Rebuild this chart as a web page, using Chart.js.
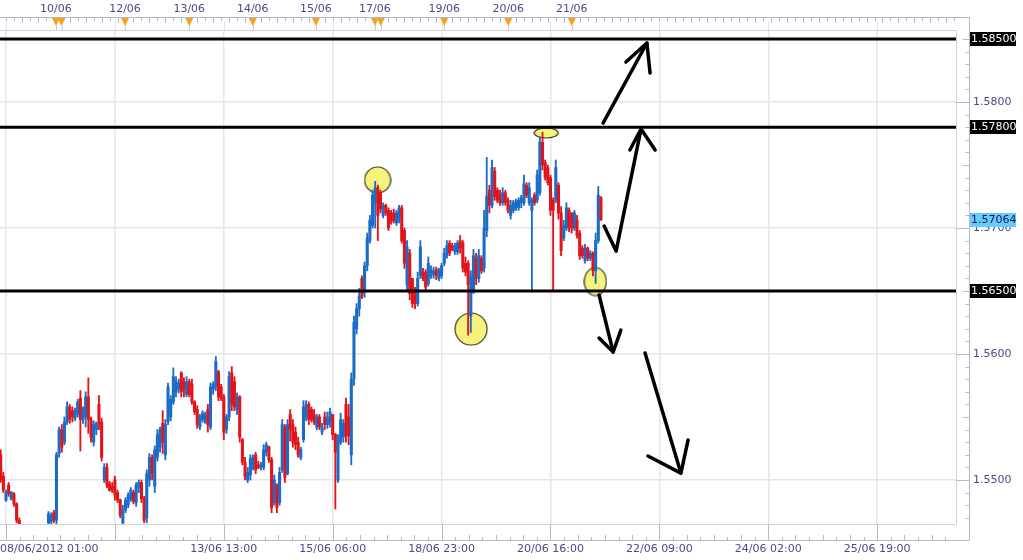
<!DOCTYPE html>
<html><head><meta charset="utf-8">
<script src="https://cdn.jsdelivr.net/npm/chart.js@4.4.1/dist/chart.umd.min.js"></script>
<style>html,body{margin:0;padding:0;background:#fff;overflow:hidden}</style>
</head><body>
<canvas id="c" width="1023" height="560"></canvas>
<script>
// ---- hourly candles, first candle is bar -2 (bar 0 = 08/06/2012 01:00)
const firstBar = -2;
const opens = [1.5520,1.5503,1.5484,1.5496,1.5485,1.5489,1.5481,1.5468,1.5458,1.5450,1.5454,1.5447,
1.5451,1.5456,1.5450,1.5455,1.5459,1.5456,1.5466,1.5467,1.5474,1.5468,
1.5521,1.5540,1.5530,1.5546,1.5558,1.5555,1.5549,1.5552,1.5565,1.5548,
1.5550,1.5566,1.5548,1.5530,1.5540,1.5560,1.5546,1.5500,1.5510,1.5497,
1.5495,1.5500,1.5490,1.5484,1.5466,1.5476,1.5480,1.5485,1.5490,1.5482,
1.5494,1.5498,1.5485,1.5470,1.5500,1.5518,1.5495,1.5518,1.5526,1.5545,
1.5520,1.5546,1.5550,1.5562,1.5570,1.5572,1.5585,1.5578,1.5568,1.5578,
1.5576,1.5562,1.5556,1.5542,1.5548,1.5546,1.5556,1.5542,1.5572,1.5574,
1.5586,1.5574,1.5566,1.5540,1.5550,1.5585,1.5578,1.5556,1.5566,1.5532,
1.5514,1.5500,1.5504,1.5510,1.5520,1.5512,1.5510,1.5510,1.5522,1.5526,
1.5516,1.5482,1.5496,1.5482,1.5508,1.5542,1.5505,1.5552,1.5544,1.5538,
1.5530,1.5518,1.5532,1.5550,1.5560,1.5556,1.5552,1.5542,1.5550,1.5538,
1.5550,1.5544,1.5546,1.5552,1.5536,1.5500,1.5530,1.5534,1.5560,1.5550,
1.5520,1.5580,1.5620,1.5636,1.5660,1.5650,1.5670,1.5690,1.5702,1.5720,
1.5732,1.5728,1.5710,1.5718,1.5714,1.5712,1.5712,1.5704,1.5708,1.5716,
1.5698,1.5655,1.5680,1.5660,1.5650,1.5640,1.5662,1.5665,1.5665,1.5656,
1.5662,1.5663,1.5667,1.5660,1.5662,1.5672,1.5678,1.5688,1.5686,1.5681,
1.5681,1.5690,1.5688,1.5672,1.5672,1.5630,1.5650,1.5676,1.5660,1.5676,
1.5668,1.5698,1.5730,1.5718,1.5745,1.5730,1.5726,1.5720,1.5728,1.5722,
1.5710,1.5714,1.5716,1.5716,1.5720,1.5720,1.5734,1.5720,1.5714,1.5726,
1.5722,1.5728,1.5768,1.5752,1.5748,1.5740,1.5722,1.5722,1.5734,1.5712,
1.5692,1.5700,1.5714,1.5712,1.5700,1.5706,1.5696,1.5684,1.5674,1.5684,
1.5676,1.5680,1.5666,1.5690,1.5724];
const highs = [1.5524,1.5506,1.5492,1.5498,1.5491,1.5490,1.5482,1.5470,1.5460,1.5456,1.5457,1.5453,
1.5458,1.5459,1.5457,1.5461,1.5462,1.5462,1.5475,1.5474,1.5476,1.5522,
1.5542,1.5544,1.5550,1.5562,1.5560,1.5558,1.5557,1.5564,1.5571,1.5558,
1.5570,1.5581,1.5550,1.5547,1.5546,1.5567,1.5549,1.5513,1.5513,1.5499,
1.5498,1.5503,1.5492,1.5485,1.5480,1.5486,1.5490,1.5494,1.5492,1.5498,
1.5500,1.5500,1.5487,1.5508,1.5521,1.5520,1.5527,1.5540,1.5542,1.5555,
1.5548,1.5577,1.5567,1.5589,1.5582,1.5580,1.5586,1.5581,1.5582,1.5580,
1.5580,1.5563,1.5559,1.5552,1.5555,1.5554,1.5560,1.5577,1.5578,1.5598,
1.5587,1.5576,1.5568,1.5552,1.5586,1.5590,1.5582,1.5569,1.5567,1.5533,
1.5518,1.5510,1.5520,1.5520,1.5522,1.5515,1.5514,1.5528,1.5530,1.5527,
1.5518,1.5504,1.5497,1.5510,1.5548,1.5544,1.5548,1.5556,1.5548,1.5542,
1.5534,1.5526,1.5563,1.5563,1.5562,1.5558,1.5556,1.5552,1.5552,1.5545,
1.5554,1.5554,1.5557,1.5552,1.5537,1.5536,1.5553,1.5548,1.5565,1.5560,
1.5585,1.5630,1.5640,1.5652,1.5662,1.5673,1.5696,1.5710,1.5730,1.5737,
1.5734,1.5730,1.5720,1.5719,1.5716,1.5714,1.5715,1.5714,1.5718,1.5718,
1.5700,1.5690,1.5683,1.5660,1.5653,1.5665,1.5690,1.5668,1.5667,1.5677,
1.5670,1.5669,1.5669,1.5668,1.5672,1.5684,1.5690,1.5690,1.5688,1.5688,
1.5690,1.5694,1.5690,1.5677,1.5674,1.5666,1.5683,1.5680,1.5683,1.5678,
1.5714,1.5756,1.5734,1.5754,1.5748,1.5732,1.5730,1.5732,1.5730,1.5724,
1.5722,1.5722,1.5723,1.5724,1.5726,1.5742,1.5736,1.5736,1.5724,1.5728,
1.5746,1.5772,1.5776,1.5754,1.5750,1.5742,1.5724,1.5754,1.5736,1.5717,
1.5706,1.5720,1.5716,1.5712,1.5714,1.5710,1.5698,1.5686,1.5687,1.5685,
1.5682,1.5681,1.5696,1.5733,1.5725];
const lows = [1.5498,1.5490,1.5483,1.5487,1.5484,1.5479,1.5466,1.5455,1.5448,1.5446,1.5444,1.5442,
1.5449,1.5448,1.5447,1.5452,1.5453,1.5452,1.5462,1.5464,1.5466,1.5465,
1.5518,1.5522,1.5528,1.5544,1.5545,1.5546,1.5547,1.5550,1.5523,1.5545,
1.5542,1.5537,1.5530,1.5527,1.5536,1.5540,1.5515,1.5498,1.5494,1.5491,
1.5490,1.5484,1.5482,1.5470,1.5465,1.5474,1.5478,1.5483,1.5481,1.5479,
1.5490,1.5482,1.5466,1.5466,1.5495,1.5500,1.5490,1.5515,1.5522,1.5521,
1.5516,1.5544,1.5547,1.5560,1.5566,1.5569,1.5566,1.5566,1.5566,1.5566,
1.5560,1.5552,1.5541,1.5540,1.5546,1.5545,1.5538,1.5540,1.5568,1.5571,
1.5563,1.5563,1.5532,1.5537,1.5547,1.5555,1.5555,1.5552,1.5530,1.5512,
1.5500,1.5498,1.5500,1.5508,1.5505,1.5509,1.5508,1.5508,1.5519,1.5514,
1.5474,1.5480,1.5474,1.5480,1.5506,1.5498,1.5504,1.5531,1.5526,1.5524,
1.5518,1.5516,1.5530,1.5547,1.5544,1.5546,1.5544,1.5540,1.5540,1.5536,
1.5540,1.5541,1.5542,1.5532,1.5477,1.5498,1.5528,1.5530,1.5530,1.5528,
1.5512,1.5575,1.5616,1.5630,1.5644,1.5645,1.5666,1.5688,1.5700,1.5700,
1.5690,1.5712,1.5708,1.5710,1.5698,1.5703,1.5704,1.5702,1.5704,1.5688,
1.5668,1.5650,1.5643,1.5637,1.5636,1.5638,1.5660,1.5658,1.5650,1.5654,
1.5660,1.5660,1.5659,1.5658,1.5660,1.5670,1.5676,1.5678,1.5682,1.5679,
1.5679,1.5680,1.5665,1.5662,1.5615,1.5617,1.5648,1.5655,1.5657,1.5664,
1.5665,1.5693,1.5712,1.5716,1.5722,1.5720,1.5718,1.5718,1.5718,1.5712,
1.5707,1.5712,1.5714,1.5714,1.5716,1.5718,1.5724,1.5718,1.5651,1.5718,
1.5720,1.5726,1.5746,1.5738,1.5734,1.5710,1.5651,1.5720,1.5707,1.5678,
1.5690,1.5698,1.5697,1.5696,1.5698,1.5692,1.5675,1.5676,1.5672,1.5674,
1.5674,1.5662,1.5656,1.5688,1.5706];
const closes = [1.5500,1.5492,1.5490,1.5489,1.5490,1.5481,1.5468,1.5458,1.5450,1.5454,1.5447,1.5451,
1.5456,1.5450,1.5455,1.5459,1.5456,1.5460,1.5473,1.5472,1.5468,1.5520,
1.5540,1.5526,1.5546,1.5558,1.5548,1.5550,1.5555,1.5562,1.5548,1.5556,
1.5566,1.5548,1.5534,1.5544,1.5545,1.5545,1.5518,1.5510,1.5496,1.5492,
1.5492,1.5488,1.5484,1.5472,1.5476,1.5484,1.5488,1.5492,1.5483,1.5496,
1.5498,1.5485,1.5468,1.5505,1.5518,1.5505,1.5524,1.5536,1.5540,1.5530,
1.5544,1.5574,1.5564,1.5582,1.5578,1.5577,1.5570,1.5572,1.5578,1.5568,
1.5562,1.5554,1.5544,1.5550,1.5553,1.5552,1.5544,1.5574,1.5576,1.5594,
1.5566,1.5565,1.5538,1.5550,1.5582,1.5560,1.5558,1.5566,1.5534,1.5514,
1.5503,1.5506,1.5517,1.5518,1.5508,1.5510,1.5512,1.5524,1.5528,1.5516,
1.5478,1.5500,1.5478,1.5506,1.5544,1.5502,1.5544,1.5540,1.5530,1.5528,
1.5520,1.5524,1.5558,1.5560,1.5548,1.5548,1.5546,1.5550,1.5542,1.5542,
1.5544,1.5550,1.5554,1.5536,1.5522,1.5532,1.5548,1.5545,1.5535,1.5535,
1.5580,1.5625,1.5636,1.5646,1.5646,1.5670,1.5692,1.5706,1.5726,1.5732,
1.5710,1.5715,1.5718,1.5712,1.5700,1.5705,1.5706,1.5712,1.5716,1.5690,
1.5672,1.5685,1.5648,1.5640,1.5640,1.5660,1.5685,1.5660,1.5653,1.5672,
1.5667,1.5666,1.5662,1.5666,1.5670,1.5680,1.5686,1.5680,1.5683,1.5686,
1.5688,1.5684,1.5668,1.5665,1.5655,1.5662,1.5678,1.5660,1.5678,1.5666,
1.5700,1.5725,1.5718,1.5748,1.5725,1.5722,1.5720,1.5728,1.5720,1.5714,
1.5718,1.5720,1.5721,1.5722,1.5724,1.5735,1.5726,1.5732,1.5722,1.5720,
1.5742,1.5768,1.5750,1.5740,1.5736,1.5714,1.5714,1.5748,1.5712,1.5682,
1.5702,1.5716,1.5700,1.5700,1.5712,1.5694,1.5678,1.5678,1.5684,1.5676,
1.5680,1.5666,1.5690,1.5726,1.57064];

// axes
const xGridBars = [0,41,82,123,164,205,246,287,328];
const xTickLabels = ['08/06/2012 01:00','','13/06 13:00','15/06 06:00','18/06 23:00','20/06 16:00','22/06 09:00','24/06 02:00','25/06 19:00'];
const yTicks = [1.55,1.56,1.57,1.58];
const dayLabels = ['10/06','12/06','13/06','14/06','15/06','17/06','19/06','20/06','21/06'];
const dayLabelBars = [18.8,44.8,69.0,92.9,116.7,138.9,165.0,189.1,213.0];
const flagBars = [18.8,20.9,44.8,69.0,92.9,116.7,138.9,141.1,165.0,189.1,213.0];

// annotations
const levels = [1.5850,1.5780,1.5650];
const lastPrice = 1.57064;
const circleBars = [139.9,175.1,203.4,221.9];
const circlePrices = [1.57381,1.56198,1.57754,1.56575];
const circleW = [26,32,24,22];
const circleH = [26,32,10,28];
const arrowShafts = [
  [[224.8,1.57833],[241.3,1.58468]],
  [[225.2,1.57016],[229.7,1.56817],[239.1,1.57786]],
  [[223.3,1.56468],[228.6,1.56016]],
  [[240.6,1.56008],[254.1,1.55055]]
];
const arrowHeads = [
  [[233.4,1.58317],[241.3,1.58468],[242.5,1.58230]],
  [[234.9,1.57619],[239.1,1.57786],[244.4,1.57619]],
  [[223.3,1.56127],[228.6,1.56016],[231.5,1.56190]],
  [[241.7,1.55190],[254.1,1.55055],[256.8,1.55317]]
];

const X_MIN = -2.26, X_MAX = 357.68;
const Y_MIN = 1.546508, Y_MAX = 1.585635;
const BLUE = '#1a6cc8', RED = '#e2141a';
const TXT = '#4a4a86';
const FONT = '11px "DejaVu Sans"';

const bars = opens.map((_, i) => firstBar + i);
const up = i => closes[i] >= opens[i];
const colorFn = ctx => up(ctx.dataIndex) ? BLUE : RED;

function ellipseCanvas(w, h) {
  const c = document.createElement('canvas');
  c.width = w + 2; c.height = h + 2;
  const g = c.getContext('2d');
  g.beginPath();
  g.ellipse(c.width / 2, c.height / 2, w / 2, h / 2, 0, 0, Math.PI * 2);
  g.fillStyle = '#f7f27c'; g.fill();
  g.lineWidth = 1.2; g.strokeStyle = '#3a3a2a'; g.stroke();
  return c;
}
const circleStyles = circleW.map((w, i) => ellipseCanvas(w, circleH[i]));

const datasets = [];
datasets.push({
  type: 'scatter', data: circleBars.map((b, i) => ({x: b, y: circlePrices[i]})),
  pointStyle: ctx => circleStyles[ctx.dataIndex], pointRadius: 10, order: 10, clip: false
});
datasets.push({
  type: 'bar', data: bars.map((b, i) => ({x: b, y: [lows[i], highs[i]]})),
  backgroundColor: colorFn, barThickness: 1.2, grouped: false, order: 6
});
datasets.push({
  type: 'bar', data: bars.map((b, i) => ({x: b, y: [opens[i], closes[i]]})),
  backgroundColor: colorFn, barThickness: 2.4, grouped: false, minBarLength: 1, order: 5
});
levels.forEach(v => datasets.push({
  type: 'line', data: [{x: X_MIN, y: v}, {x: X_MAX, y: v}],
  borderColor: '#000', borderWidth: 3, pointRadius: 0, order: 3
}));
arrowShafts.concat(arrowHeads).forEach(pts => datasets.push({
  type: 'line', data: pts.map(p => ({x: p[0], y: p[1]})),
  borderColor: '#000', borderWidth: 3.5, pointRadius: 0, tension: 0,
  borderCapStyle: 'round', borderJoinStyle: 'round', order: 1
}));

const deco = {
  id: 'deco',
  beforeDraw(chart) {
    const g = chart.ctx;
    g.save(); g.fillStyle = '#fff'; g.fillRect(0, 0, chart.width, chart.height); g.restore();
  },
  afterDraw(chart) {
    const g = chart.ctx, xs = chart.scales.x, ys = chart.scales.y, a = chart.chartArea;
    const AX = 969.5;
    g.save();
    // frame
    g.strokeStyle = '#cdd3dd'; g.lineWidth = 1;
    g.beginPath();
    g.moveTo(0, 30.5); g.lineTo(a.right + 0.5, 30.5);
    g.moveTo(a.right + 0.5, 30.5); g.lineTo(a.right + 0.5, a.bottom + 0.5);
    g.moveTo(0, a.bottom + 0.5); g.lineTo(a.right + 0.5, a.bottom + 0.5);
    g.stroke();
    // axis line and rulers
    g.strokeStyle = '#b4bccb';
    g.beginPath();
    g.moveTo(AX, 17); g.lineTo(AX, 540.5);
    g.moveTo(0, 540.5); g.lineTo(AX, 540.5);
    g.moveTo(0, 17.5); g.lineTo(AX, 17.5);
    g.stroke();
    // bottom ruler
    g.beginPath();
    xGridBars.forEach(b => { const x = Math.round(xs.getPixelForValue(b)) + 0.5; g.moveTo(x, a.bottom); g.lineTo(x, 540); });
    const step = 41 / 8;
    for (let v = Math.ceil(X_MIN / step) * step; v <= X_MAX; v += step) {
      const x = Math.round(xs.getPixelForValue(v)) + 0.5;
      const len = (Math.round(v / step) % 2) ? 3 : 5;
      g.moveTo(x, 540); g.lineTo(x, 540 - len);
    }
    // top ruler ticks
    for (let v = Math.ceil(X_MIN / 3) * 3; v <= X_MAX; v += 3) {
      const x = Math.round(xs.getPixelForValue(v)) + 0.5;
      const len = (Math.round(v / 3) % 2) ? 3 : 5;
      g.moveTo(x, 18); g.lineTo(x, 18 + len);
    }
    g.stroke();
    g.strokeStyle = '#dde1e8';
    g.beginPath();
    xGridBars.forEach(b => { const x = Math.round(xs.getPixelForValue(b)) + 0.5; g.moveTo(x, 21); g.lineTo(x, 30); });
    g.stroke();
    // y ticks (inside, left of axis line)
    g.strokeStyle = '#b4bccb';
    g.beginPath();
    for (let n = Math.ceil(Y_MIN * 1000); n <= Math.floor(Y_MAX * 1000); n++) {
      const y = Math.round(ys.getPixelForValue(n / 1000)) + 0.5;
      const len = n % 10 === 0 ? 13 : (n % 5 === 0 ? 7 : 4);
      g.moveTo(AX, y); g.lineTo(AX - len, y);
    }
    g.stroke();
    // flags
    flagBars.forEach(b => {
      const x = xs.getPixelForValue(b);
      g.strokeStyle = '#c8ced8'; g.lineWidth = 1;
      g.beginPath(); g.moveTo(Math.round(x) + 0.5, 25); g.lineTo(Math.round(x) + 0.5, 30); g.stroke();
      g.fillStyle = '#f6a21e';
      g.beginPath(); g.moveTo(x - 4, 18); g.lineTo(x + 4, 18); g.lineTo(x, 26); g.closePath(); g.fill();
    });
    // text
    g.font = FONT; g.fillStyle = TXT; g.textBaseline = 'middle';
    g.textAlign = 'center';
    dayLabels.forEach((t, i) => g.fillText(t, xs.getPixelForValue(dayLabelBars[i]), 9));
    xTickLabels.forEach((t, i) => {
      if (!t) return;
      if (i === 0) { g.textAlign = 'left'; g.fillText(t, 0, 549); g.textAlign = 'center'; }
      else g.fillText(t, xs.getPixelForValue(xGridBars[i]), 549);
    });
    // value boxes on the price axis
    g.textAlign = 'left';
    const box = (v, bg, fg) => {
      const y = Math.round(ys.getPixelForValue(v));
      g.fillStyle = bg; g.fillRect(970, y - 7, 46, 14);
      g.fillStyle = fg; g.fillText(v.toFixed(5), 971, y + 0.5);
    };
    levels.forEach(v => box(v, '#000', '#fff'));
    box(lastPrice, '#66ccff', '#1a1a50');
    g.restore();
  }
};

new Chart(document.getElementById('c'), {
  type: 'bar',
  data: {datasets},
  options: {
    responsive: false, animation: false, devicePixelRatio: 1, events: [],
    layout: {autoPadding: false, padding: {top: 31, left: 0, right: 0, bottom: 0}},
    plugins: {legend: {display: false}, tooltip: {enabled: false}},
    scales: {
      x: {
        type: 'linear', position: 'bottom', min: X_MIN, max: X_MAX, offset: false,
        afterBuildTicks: s => { s.ticks = xGridBars.map(v => ({value: v})); },
        ticks: {display: false},
        grid: {color: '#e6e6e6', lineWidth: 1.5, drawTicks: false, offset: false},
        border: {display: false},
        afterFit: s => { s.height = 36; }
      },
      y: {
        type: 'linear', position: 'right', min: Y_MIN, max: Y_MAX,
        afterBuildTicks: s => { s.ticks = yTicks.map(v => ({value: v})); },
        ticks: {callback: v => Number(v).toFixed(4), color: TXT, font: {family: 'DejaVu Sans', size: 11}, padding: 17},
        grid: {color: '#e6e6e6', lineWidth: 1.5, drawTicks: false},
        border: {display: false},
        afterFit: s => { s.width = 67; }
      }
    }
  },
  plugins: [deco]
});
</script>
</body></html>
